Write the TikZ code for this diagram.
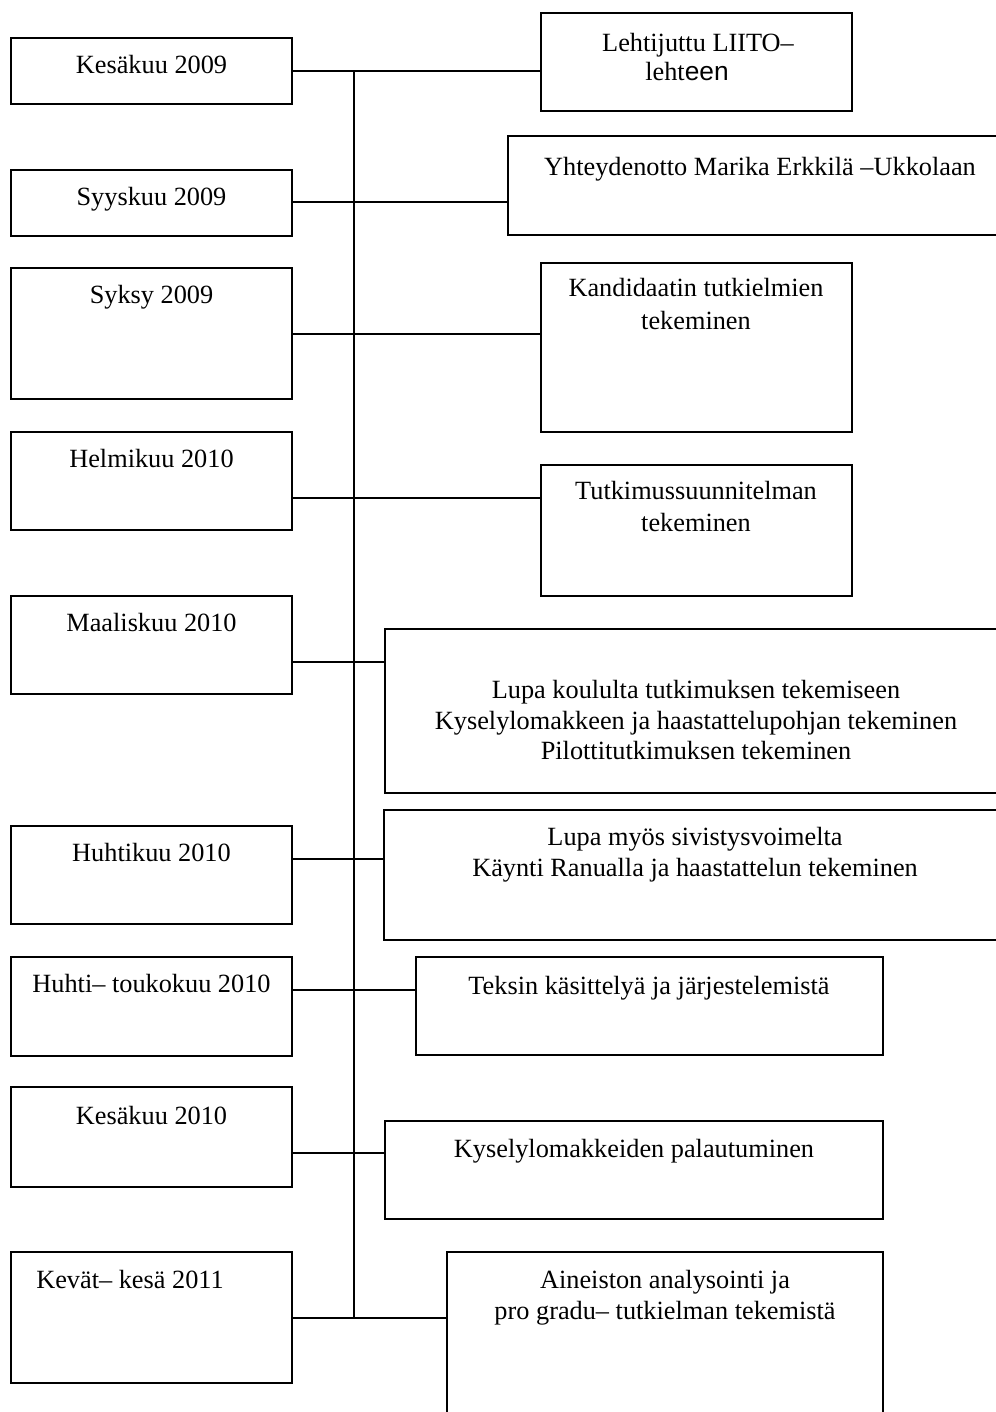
\documentclass[tikz,border=0pt]{standalone}
\usepackage{fontspec}
\setmainfont{Liberation Serif}
\newfontfamily\arialfont{Liberation Sans}
\usetikzlibrary{fit}
\tikzset{
  box/.style={draw=black, line width=1.8pt, inner sep=0pt},
  txt/.style={inner sep=0pt, anchor=base, font=\fontsize{26.3}{30}\selectfont},
  conn/.style={draw=black, line width=1.8pt}
}
\begin{document}
\begin{tikzpicture}[x=1pt, y=-1pt]
\useasboundingbox (0,0) rectangle (995,1412);
% left boxes
\node[box, fit={(11,38) (292,104)}] (L1) {};
\node[box, fit={(11,170) (292,236)}] (L2) {};
\node[box, fit={(11,268) (292,399)}] (L3) {};
\node[box, fit={(11,432) (292,530)}] (L4) {};
\node[box, fit={(11,596) (292,694)}] (L5) {};
\node[box, fit={(11,826) (292,924)}] (L6) {};
\node[box, fit={(11,957) (292,1056)}] (L7) {};
\node[box, fit={(11,1087) (292,1187)}] (L8) {};
\node[box, fit={(11,1252) (292,1383)}] (L9) {};
% right boxes
\node[box, fit={(541,13) (852,111)}] (R1) {};
\node[box, fit={(508,136) (1010,235)}] (R2) {};
\node[box, fit={(541,263) (852,432)}] (R3) {};
\node[box, fit={(541,465) (852,596)}] (R4) {};
\node[box, fit={(385,629) (1010,793)}] (R5) {};
\node[box, fit={(384,810) (1010,940)}] (R6) {};
\node[box, fit={(416,957) (883,1055)}] (R7) {};
\node[box, fit={(385,1121) (883,1219)}] (R8) {};
\node[box, fit={(447,1252) (883,1430)}] (R9) {};
% texts left
\node[txt] (tL1) at (151.5,74) {Kesäkuu 2009};
\node[txt] (tL2) at (151.5,206) {Syyskuu 2009};
\node[txt] (tL3) at (151.5,304) {Syksy 2009};
\node[txt] (tL4) at (151.5,467) {Helmikuu 2010};
\node[txt] (tL5) at (151.5,631) {Maaliskuu 2010};
\node[txt] (tL6) at (151.5,861) {Huhtikuu 2010};
\node[txt] (tL7) at (151.5,992) {Huhti– toukokuu 2010};
\node[txt] (tL8) at (151.5,1124) {Kesäkuu 2010};
\node[txt] (tL9) at (130,1288) {Kevät– kesä 2011};
% texts right
\node[txt] (tR1a) at (698,52) {Lehtijuttu LIITO–};
\node[txt] (tR1b) at (687,81) {leht{\arialfont een}};
\node[txt, anchor=base west] (tR2) at (544,176) {Yhteydenotto Marika Erkkilä –Ukkolaan};
\node[txt] (tR3a) at (696,297) {Kandidaatin tutkielmien};
\node[txt] (tR3b) at (696,329) {tekeminen};
\node[txt] (tR4a) at (696,499) {Tutkimussuunnitelman};
\node[txt] (tR4b) at (696,531) {tekeminen};
\node[txt] (tR5a) at (696,698) {Lupa koululta tutkimuksen tekemiseen};
\node[txt] (tR5b) at (696,729) {Kyselylomakkeen ja haastattelupohjan tekeminen};
\node[txt] (tR5c) at (696,759) {Pilottitutkimuksen tekeminen};
\node[txt] (tR6a) at (695,845) {Lupa myös sivistysvoimelta};
\node[txt] (tR6b) at (695,876) {Käynti Ranualla ja haastattelun tekeminen};
\node[txt] (tR7) at (649,994) {Teksin käsittelyä ja järjestelemistä};
\node[txt] (tR8) at (634,1157) {Kyselylomakkeiden palautuminen};
\node[txt] (tR9a) at (665,1288) {Aineiston analysointi ja};
\node[txt] (tR9b) at (665,1319) {pro gradu– tutkielman tekemistä};
% junctions on trunk
\coordinate (j1) at (354,71);
\coordinate (j2) at (354,202);
\coordinate (j3) at (354,334);
\coordinate (j4) at (354,498);
\coordinate (j5) at (354,662);
\coordinate (j6) at (354,859);
\coordinate (j7) at (354,990);
\coordinate (j8) at (354,1153);
\coordinate (j9) at (354,1318);
% trunk
\draw[conn] (j1) -- (j9);
% connectors
\foreach \i in {1,...,9}{
  \draw[conn] (L\i.east |- j\i) -- (R\i.west |- j\i);
}
\end{tikzpicture}
\end{document}
